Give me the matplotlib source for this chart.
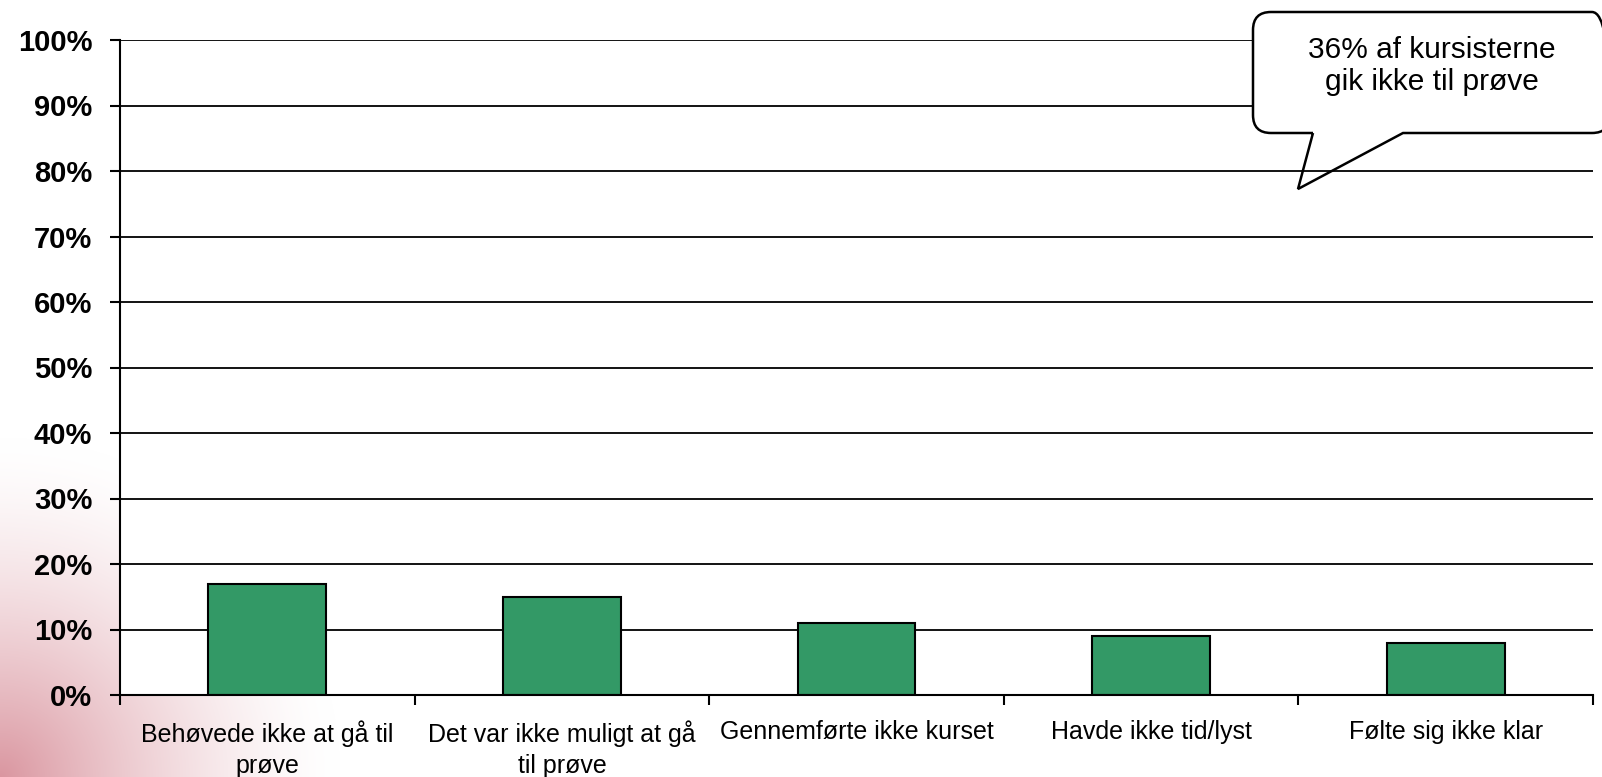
import numpy as np
import matplotlib
matplotlib.use("Agg")
import matplotlib.pyplot as plt
from matplotlib.path import Path
from matplotlib.patches import PathPatch, FancyBboxPatch

categories = ["Behøvede ikke at gå til\nprøve", "Det var ikke muligt at gå\ntil prøve",
              "Gennemførte ikke kurset", "Havde ikke tid/lyst", "Følte sig ikke klar"]
values = [17, 15, 11, 9, 8]
yticks = [0, 10, 20, 30, 40, 50, 60, 70, 80, 90, 100]
ytick_labels = [f"{v}%" for v in yticks]
callout_text = "36% af kursisterne\ngik ikke til prøve"

plt.rcParams['font.family'] = ['Liberation Sans', 'DejaVu Sans']

W, H = 1602, 777
fig = plt.figure(figsize=(W / 100, H / 100), dpi=100)
fig.patch.set_facecolor("white")

# background gradient (bottom-left pink glow)
bg = fig.add_axes([0, 0, 1, 1], zorder=-10)
bg.set_axis_off()
yy, xx = np.mgrid[0:H, 0:W]
d = np.sqrt((xx / 340.0) ** 2 + ((H - yy) / 340.0) ** 2)
a = np.clip(1 - d, 0, 1) ** 1.5
img = np.ones((H, W, 3))
pink = np.array([218, 150, 160]) / 255.0
for c in range(3):
    img[..., c] = 1 - a * (1 - pink[c])
bg.imshow(img, extent=[0, W, H, 0], aspect='auto')
bg.set_xlim(0, W); bg.set_ylim(H, 0)

# main axes
left, right = 120 / W, 1593 / W
bottom, top = 1 - 695 / H, 1 - 40 / H
ax = fig.add_axes([left, bottom, right - left, top - bottom], zorder=1)
ax.set_facecolor("white")
x = np.arange(len(categories))
ax.bar(x, values, width=0.4, color="#339966", edgecolor="black", linewidth=1.5, zorder=3)
ax.set_xlim(-0.5, len(categories) - 0.5)
ax.set_ylim(0, 100)
ax.set_yticks(yticks)
ax.set_yticklabels(ytick_labels, fontsize=21, fontweight='bold')
for v in yticks[1:]:
    ax.axhline(v, color="black", linewidth=1.3, zorder=1)
ax.set_xticks(np.arange(-0.5, len(categories)), minor=False)
ax.set_xticklabels([""] * (len(categories) + 1))
ax.set_xticks(x, minor=True)
ax.set_xticklabels(categories, minor=True, fontsize=18, linespacing=1.38)
ax.tick_params(axis='x', which='major', direction='out', length=7, width=1.5)
ax.tick_params(axis='x', which='minor', length=0, pad=18)
ax.tick_params(axis='y', direction='out', length=7, width=1.5, pad=13)
for s in ['top', 'right']:
    ax.spines[s].set_visible(False)
for s in ['left', 'bottom']:
    ax.spines[s].set_linewidth(1.5)
    ax.spines[s].set_zorder(4)

# callout overlay in pixel coordinates
ov = fig.add_axes([0, 0, 1, 1], zorder=5)
ov.set_axis_off()
ov.set_xlim(0, W); ov.set_ylim(H, 0)
bx0, by0, bx1, by1 = 1253, 12, 1610, 133
body = FancyBboxPatch((bx0, by0), bx1 - bx0, by1 - by0,
                      boxstyle="round,pad=0,rounding_size=18",
                      facecolor="white", edgecolor="none", zorder=5)
ov.add_patch(body)
r = 18
verts = [(1313, by1), (1298, 189), (1403, by1), (bx1 - r, by1),
         (bx1, by1), (bx1, by1 - r),
         (bx1, by0 + r),
         (bx1, by0), (bx1 - r, by0),
         (bx0 + r, by0),
         (bx0, by0), (bx0, by0 + r),
         (bx0, by1 - r),
         (bx0, by1), (bx0 + r, by1),
         (1313, by1)]
codes = [Path.MOVETO, Path.LINETO, Path.LINETO, Path.LINETO,
         Path.CURVE3, Path.CURVE3,
         Path.LINETO,
         Path.CURVE3, Path.CURVE3,
         Path.LINETO,
         Path.CURVE3, Path.CURVE3,
         Path.LINETO,
         Path.CURVE3, Path.CURVE3,
         Path.LINETO]
ov.add_patch(PathPatch(Path(verts, codes), facecolor="none", edgecolor="black",
                       linewidth=1.8, zorder=6, joinstyle='miter'))
ov.text(1432, 66, callout_text, ha='center', va='center', fontsize=21.5,
        linespacing=1.2, zorder=7)

fig.savefig("out.png", dpi=100)
